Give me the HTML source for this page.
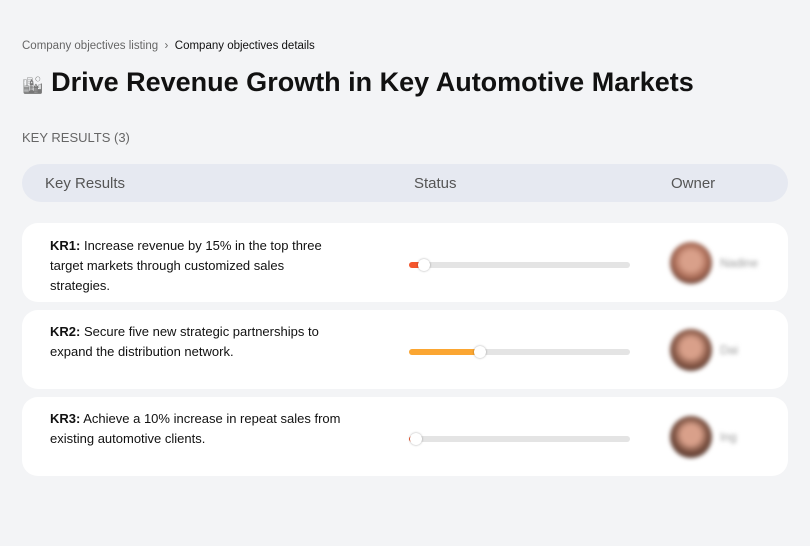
<!DOCTYPE html>
<html><head><meta charset="utf-8"><style>
*{box-sizing:border-box;margin:0;padding:0}
body{width:810px;height:546px;background:#f3f4f6;font-family:"Liberation Sans",sans-serif;position:relative;overflow:hidden;color:#111}
.abs{position:absolute}
.crumb{left:22px;top:40px;font-size:11.5px;color:#666}
.crumb b{font-weight:normal;color:#111}
h1{position:absolute;left:22px;top:67px;font-size:27px;font-weight:bold;letter-spacing:0}
.kr{left:22px;top:130px;font-size:13px;color:#666}
.hdr{left:22px;top:164px;width:766px;height:38px;background:#e6e9f1;border-radius:19px;font-size:15px;color:#555}
.hdr span{position:absolute;top:11px}
.card{left:22px;width:766px;height:79px;background:#fff;border-radius:16px}
.txt{position:absolute;left:28px;font-size:13px;line-height:20px;width:330px;white-space:nowrap;color:#111}
.track{position:absolute;left:387px;width:221px;height:6px;border-radius:3px;background:#e4e4e4}
.fill{position:absolute;left:0;top:0;height:6px;border-radius:3px}
.knob{position:absolute;top:-3px;width:12px;height:12px;border-radius:50%;background:#fff;box-shadow:0 0 2px rgba(0,0,0,.35)}
.av{position:absolute;left:648px;width:42px;height:42px;border-radius:50%;filter:blur(2px)}
.nm{position:absolute;left:698px;font-size:12px;color:#999;filter:blur(2px)}
</style></head><body>
<div class="abs crumb"><span>Company objectives listing</span> &nbsp;›&nbsp; <b>Company objectives details</b></div>
<h1><span style="font-size:17px;font-weight:normal;color:#777">&#x1F3D9;</span> Drive Revenue Growth in Key Automotive Markets</h1>
<div class="abs kr">KEY RESULTS (3)</div>
<div class="abs hdr">
<span style="left:23px">Key Results</span>
<span style="left:392px">Status</span>
<span style="left:649px">Owner</span>
</div>
<div id="rows"></div>
<script>
const labels=["KR1:","KR2:","KR3:"];
const texts=[["Increase revenue by 15% in the top three","target markets through customized sales","strategies."],["Secure five new strategic partnerships to","expand the distribution network."],["Achieve a 10% increase in repeat sales from","existing automotive clients."]];
const progress=[7,32,3];
const owners=["Nadine","Dai","Ing"];
const colors=["#f4562d","#fba632","#f4562d"];
const avatarColors=["#a86a55","#8a5a48","#7a5040"];
const root=document.getElementById('rows');
for(let i=0;i<labels.length;i++){
 const c=document.createElement('div');
 c.className='abs card';c.style.top=(223+i*87)+'px';
 
 
 const lines=texts[i].length;
 const t=document.createElement('div');t.className='txt';
 t.style.top=(lines===3?13:12)+'px';
 t.innerHTML='<b>'+labels[i]+'</b> '+texts[i].join('<br>');
 
 
 c.appendChild(t);
 const tr=document.createElement('div');tr.className='track';tr.style.top='39px';
 
 
 const w=221*progress[i]/100;
 const f=document.createElement('div');f.className='fill';f.style.width=w+'px';f.style.background=colors[i];
 
 
 tr.appendChild(f);
 const k=document.createElement('div');k.className='knob';k.style.left=(w-6)+'px';
 
 
 tr.appendChild(k);
 c.appendChild(tr);
 const a=document.createElement('div');a.className='av';a.style.top='19px';
 a.style.background='radial-gradient(circle at 50% 45%,#d9a08a 0 30%,'+avatarColors[i]+' 55%,#3a2520 90%)';
 
 
 c.appendChild(a);
 const n=document.createElement('div');n.className='nm';n.style.top='33px';n.textContent=owners[i];
 
 
 c.appendChild(n);
 root.appendChild(c);
}
</script>
</body></html>
